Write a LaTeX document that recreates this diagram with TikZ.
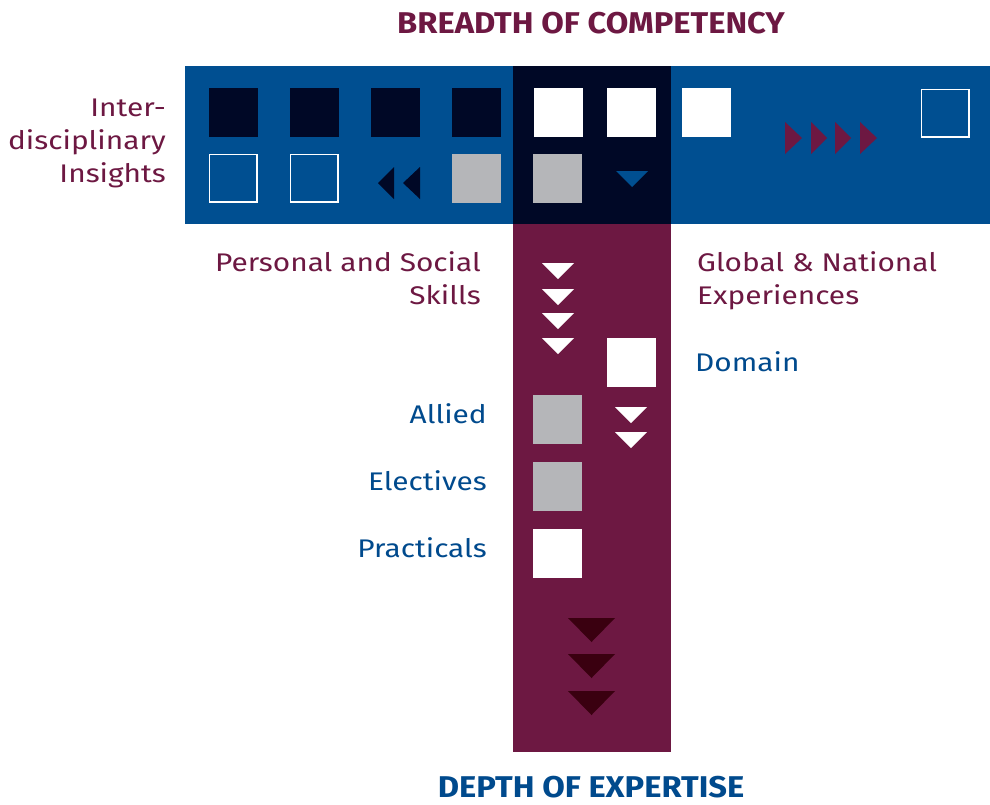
\documentclass[tikz,border=0pt]{standalone}
\usepackage{fontspec}
\setmainfont{Fira Sans}[FakeStretch=1.17]
\newfontfamily\headfont{Fira Sans}[FakeStretch=1.09]
\definecolor{tblue}{RGB}{0,79,145}
\definecolor{tnavy}{RGB}{0,8,38}
\definecolor{tmaroon}{RGB}{109,24,66}
\definecolor{tgray}{RGB}{181,182,185}
\definecolor{tdark}{RGB}{58,0,16}
\definecolor{ttext}{RGB}{0,74,141}
\newcommand\tridown[5]{\fill[#5] (#1,#2) -- (#1+#3,#2) -- (#1+#3/2,#2+#4) -- cycle;}
\newcommand\triright[5]{\fill[#5] (#1,#2) -- (#1+#3,#2+#4/2) -- (#1,#2+#4) -- cycle;}
\newcommand\trileft[5]{\fill[#5] (#1+#3,#2) -- (#1,#2+#4/2) -- (#1+#3,#2+#4) -- cycle;}
\begin{document}
\begin{tikzpicture}[x=1pt,y=-1pt,
  sq/.style={anchor=north west,minimum width=49pt,minimum height=49pt,inner sep=0pt,outer sep=0pt},
  solid navy/.style={sq,fill=tnavy},
  solid white/.style={sq,fill=white},
  solid gray/.style={sq,fill=tgray},
  hollow/.style={sq,draw=white,line width=1.6pt,minimum width=47.5pt,minimum height=47.5pt},
  lab/.style={inner sep=0pt,font=\fontsize{25.5}{33}\selectfont},
  head/.style={inner sep=0pt,font=\fontsize{30}{36}\headfont\bfseries}]
\useasboundingbox (0,0) rectangle (990,804);
\fill[white] (0,0) rectangle (990,804);
% bars
\fill[tblue] (185,66) rectangle (990,224);
\fill[tnavy] (513,66) rectangle (671,224);
\fill[tmaroon] (513,224) rectangle (671,752);
% top row
\node[solid navy] (a1) at (209,88) {};
\node[solid navy] (a2) at (290,88) {};
\node[solid navy] (a3) at (371,88) {};
\node[solid navy] (a4) at (452,88) {};
\node[solid white] (a5) at (534,88) {};
\node[solid white] (a6) at (607,88) {};
\node[solid white] (a7) at (682,88) {};
\node[hollow] (a8) at (921.5,89.5) {};
% bottom row
\node[hollow] (b1) at (209.5,154.5) {};
\node[hollow] (b2) at (290.5,154.5) {};
\trileft{378}{167}{16}{32}{tnavy}
\trileft{403}{167}{17}{32}{tnavy}
\node[solid gray] (b4) at (452,154) {};
\node[solid gray] (b5) at (533,154) {};
\tridown{616}{171}{32}{16}{tblue}
% right arrows
\triright{785}{122}{17}{32}{tmaroon}
\triright{811}{122}{16}{32}{tmaroon}
\triright{835}{122}{16}{32}{tmaroon}
\triright{860}{122}{17}{32}{tmaroon}
% column
\tridown{542}{263}{32}{16}{white}
\tridown{542}{289}{32}{16}{white}
\tridown{542}{313}{32}{16}{white}
\tridown{542}{338}{32}{16}{white}
\node[solid white] (dom) at (607,338) {};
\node[solid gray] (all) at (533,395) {};
\tridown{615}{407}{32}{16}{white}
\tridown{615}{432}{32}{16}{white}
\node[solid gray] (ele) at (533,462) {};
\node[solid white] (pra) at (533,529) {};
\tridown{568}{618}{47}{24}{tdark}
\tridown{568}{654}{47}{24}{tdark}
\tridown{568}{691}{47}{24}{tdark}
% texts
\node[head,text=tmaroon,anchor=base] (t1) at (591,33) {BREADTH OF COMPETENCY};
\node[head,text=ttext,anchor=base] (t2) at (591,797) {DEPTH OF EXPERTISE};
\node[lab,text=tmaroon,anchor=north east,align=right] (ii) at (166,99) {Inter-\\disciplinary\\Insights};
\node[lab,text=tmaroon,anchor=north east,align=right] (ps) at (481,251) {Personal and Social\\Skills};
\node[lab,text=tmaroon,anchor=north west,align=left] (gn) at (697,251) {Global \& National\\Experiences};
\node[lab,text=ttext,anchor=west] (ld) at (695,362) {Domain};
\node[lab,text=ttext,anchor=east] (la) at (487,414) {Allied};
\node[lab,text=ttext,anchor=east] (le) at (487,481) {Electives};
\node[lab,text=ttext,anchor=east] (lp) at (487,548) {Practicals};
\end{tikzpicture}
\end{document}
